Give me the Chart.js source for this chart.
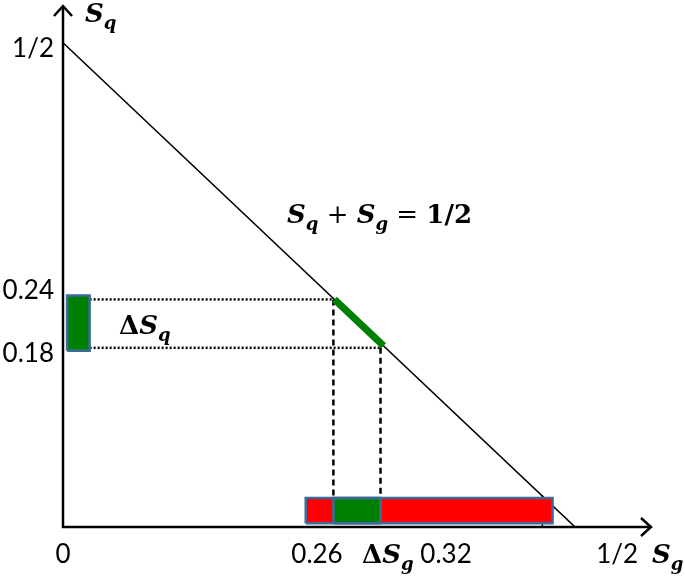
<!DOCTYPE html>
<html><head><meta charset="utf-8">
<script src="https://cdn.jsdelivr.net/npm/chart.js@4"></script>
<style>html,body{margin:0;background:#fff}#wrap{width:685px;height:578px}</style>
</head><body><div id="wrap"><canvas id="c"></canvas></div>
<script>
// values (Sg on x, Sq on y)
const lineSg = [0, 0.5];
const lineSq = [0.5, 0];
const sgBand = [0.264, 0.310];     // dashed verticals (ΔSg)
const sqBand = [0.185, 0.235];     // dotted horizontals (ΔSq)
const greenSegSg = [0.265, 0.313];
const greenSegSq = [0.235, 0.187];
const redBarSg = [0.237, 0.478];
const barSq = [0.004, 0.030];
const leftBoxSg = [0.004, 0.026];
const leftBoxSq = [0.182, 0.239];
const tickSg = 0.468;
const xTickLabels = ['0', '0.26', '0.32', '1/2'];
const xTickAt = [0, 0.248, 0.374, 0.541];
const yTickLabels = ['1/2', '0.24', '0.18'];
const yTickAt = [0.494, 0.244, 0.179];

const pts = (xs, ys) => xs.map((x, i) => ({x, y: ys[i]}));
const rect = (xs, ys) => pts([xs[0], xs[1], xs[1], xs[0], xs[0]], [ys[0], ys[0], ys[1], ys[1], ys[0]]);
const boxEdge = '#3e6a9a';

function seg(data, color, width, dash, order) {
    return {data, borderColor: color, borderWidth: width, borderDash: dash || [], showLine: true,
        pointRadius: 0, fill: false, order, borderCapStyle: 'butt'};
}
function box(xs, ys, color, order) {
    return {data: rect(xs, ys), borderColor: boxEdge, backgroundColor: color, borderWidth: 2.5,
        showLine: true, pointRadius: 0, fill: 'shape', order, borderJoinStyle: 'miter'};
}

const MATH = '"DejaVu Serif", serif';
function mathText(ctx, parts, x, y) {
    let cx = x;
    parts.forEach(p => {
        ctx.font = p.f;
        ctx.fillText(p.t, cx, y + (p.dy || 0));
        cx += ctx.measureText(p.t).width + (p.gap || 0);
    });
}
const S = t => ({t, f: 'bold italic 26px ' + MATH});
const sub = t => ({t, f: 'bold italic 18px ' + MATH, dy: 7});
const up = t => ({t, f: 'bold 26px ' + MATH});
const reg = t => ({t, f: '26px ' + MATH});

const sketch = {
    id: 'sketch',
    beforeDatasetsDraw(chart) {
        const {ctx, scales: {x, y}} = chart;
        const x0 = x.getPixelForValue(0), y0 = y.getPixelForValue(0);
        const xr = x.right - 3, yt = y.top;
        ctx.save();
        ctx.strokeStyle = '#000';
        ctx.lineWidth = 2.5;
        ctx.lineCap = 'butt';
        ctx.beginPath();
        ctx.moveTo(x0, yt + 1); ctx.lineTo(x0, y0); ctx.lineTo(xr - 1, y0);
        ctx.stroke();
        ctx.lineJoin = 'miter';
        ctx.beginPath();
        ctx.moveTo(x0 - 9, yt + 11); ctx.lineTo(x0, yt + 1); ctx.lineTo(x0 + 9, yt + 11);
        ctx.moveTo(xr - 11, y0 - 9); ctx.lineTo(xr - 1, y0); ctx.lineTo(xr - 11, y0 + 9);
        ctx.stroke();
        ctx.restore();
    },
    afterDatasetsDraw(chart) {
        const {ctx, scales: {x, y}} = chart;
        ctx.save();
        ctx.fillStyle = '#000';
        ctx.textBaseline = 'alphabetic';
        ctx.font = '26px Lato';
        ctx.textAlign = 'center';
        xTickLabels.forEach((t, i) => ctx.fillText(t, x.getPixelForValue(xTickAt[i]), 563));
        ctx.textAlign = 'right';
        ctx.textBaseline = 'middle';
        yTickLabels.forEach((t, i) => ctx.fillText(t, 54, y.getPixelForValue(yTickAt[i])));
        ctx.textAlign = 'left';
        ctx.textBaseline = 'alphabetic';
        mathText(ctx, [S('S'), sub('q')], 85, 22);
        mathText(ctx, [S('S'), sub('g')], 652, 563);
        mathText(ctx, [up('Δ'), S('S'), sub('q')], 119, 334);
        mathText(ctx, [up('Δ'), S('S'), sub('g')], 362, 563);
        mathText(ctx, [S('S'), sub('q'), reg(' + '), S('S'), sub('g'), reg(' = '), up('1/2')], 287, 223);
        ctx.restore();
    }
};

new Chart(document.getElementById('c'), {
    type: 'scatter',
    data: {
        datasets: [
            seg(pts(greenSegSg, greenSegSq), '#008000', 7, null, 1),
            box(leftBoxSg, leftBoxSq, '#008000', 2),
            box(sgBand, barSq, '#008000', 3),
            box(redBarSg, barSq, '#ff0000', 4),
            seg(pts([0.026, sgBand[0]], [sqBand[1], sqBand[1]]), '#000', 2.5, [2, 2], 5),
            seg(pts([0.026, sgBand[1]], [sqBand[0], sqBand[0]]), '#000', 2.5, [2, 2], 6),
            seg(pts([sgBand[0], sgBand[0]], [sqBand[1], barSq[1]]), '#000', 2.5, [6, 4], 7),
            seg(pts([sgBand[1], sgBand[1]], [sqBand[0], barSq[1]]), '#000', 2.5, [6, 4], 8),
            seg(pts(lineSg, lineSq), '#000', 1.6, null, 9),
            seg(pts([tickSg, tickSg], [0, 0.033]), '#000', 1.5, null, 10)
        ]
    },
    options: {
        responsive: true,
        maintainAspectRatio: false,
        animation: false,
        events: [],
        layout: {padding: {left: 63, right: 30, top: 5, bottom: 51}},
        plugins: {legend: {display: false}, tooltip: {enabled: false}},
        scales: {
            x: {type: 'linear', min: 0, max: 0.578, display: false},
            y: {type: 'linear', min: 0, max: 0.539, display: false}
        }
    },
    plugins: [sketch]
});
</script>
</body></html>
